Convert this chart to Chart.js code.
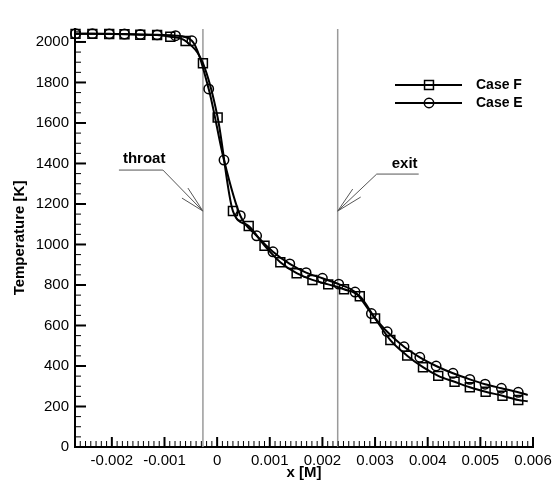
<!DOCTYPE html>
<html>
<head>
<meta charset="utf-8">
<script src="https://cdn.jsdelivr.net/npm/chart.js@4.4.1/dist/chart.umd.min.js"></script>
<style>
  html, body { margin: 0; padding: 0; background: #fff; }
  #wrap { width: 557px; height: 485px; }
</style>
</head>
<body>
<div id="wrap"><canvas id="tempChart"></canvas></div>
<script>
// Temperature along the nozzle axis
var caseFx = [-0.00269, -0.00237, -0.00205, -0.00176, -0.00146, -0.00114, -0.00089, -0.00060, -0.00027,
              0.00001, 0.00030, 0.00060, 0.00090, 0.00120, 0.00151, 0.00181, 0.00211, 0.00241, 0.00271,
              0.00300, 0.00329, 0.00361, 0.00391, 0.00420, 0.00451, 0.00480, 0.00510, 0.00542, 0.00572, 0.00590];
var caseFt = [2040, 2040, 2039, 2038, 2036, 2034, 2026, 2005, 1895,
              1627, 1165, 1091, 994, 912, 858, 825, 803, 779, 744,
              635, 528, 451, 394, 351, 322, 295, 273, 253, 232, 226];

var caseEx = [-0.00269, -0.00237, -0.00205, -0.00176, -0.00146, -0.00114, -0.00079, -0.00048, -0.00016,
              0.00013, 0.00044, 0.00075, 0.00106, 0.00138, 0.00169, 0.00200, 0.00231, 0.00262, 0.00293,
              0.00323, 0.00355, 0.00385, 0.00416, 0.00448, 0.00480, 0.00509, 0.00540, 0.00572, 0.00590];
var caseEt = [2041, 2041, 2040, 2039, 2037, 2035, 2031, 2006, 1768,
              1417, 1142, 1043, 964, 904, 861, 833, 804, 765, 659,
              569, 495, 443, 400, 364, 334, 310, 290, 270, 257];

var X_TICKS = [-0.002, -0.001, 0, 0.001, 0.002, 0.003, 0.004, 0.005, 0.006];
var Y_TICKS = [0, 200, 400, 600, 800, 1000, 1200, 1400, 1600, 1800, 2000];
var X_MIN = -0.0027, X_MAX = 0.006, Y_MIN = 0, Y_MAX = 2064;

// station markers
var THROAT_X = -0.00027, EXIT_X = 0.00229, MARK_T = 1165;

var FONT = "'Liberation Sans', Arial, Helvetica, sans-serif";

function toPoints(xs, ys) {
    return xs.map(function(x, i) { return { x: x, y: ys[i] }; });
}

// hide the marker on the last (line end) point
function markerRadius(r) {
    return function(ctx) {
        return ctx.dataIndex === ctx.dataset.data.length - 1 ? 0 : r;
    };
}

var decorPlugin = {
    id: 'decor',
    beforeDatasetsDraw: function(chart) {
        var ctx = chart.ctx, xs = chart.scales.x, ys = chart.scales.y, area = chart.chartArea;
        ctx.save();
        ctx.strokeStyle = '#9a9a9a';
        ctx.lineWidth = 1.5;
        [THROAT_X, EXIT_X].forEach(function(v) {
            var px = xs.getPixelForValue(v);
            ctx.beginPath();
            ctx.moveTo(px, area.top);
            ctx.lineTo(px, area.bottom);
            ctx.stroke();
        });

        // leader arrows
        ctx.strokeStyle = '#555';
        ctx.lineWidth = 1;
        function leader(tipX, tipY, elbowDx, elbowDy, endDx, heads) {
            ctx.beginPath();
            ctx.moveTo(tipX + elbowDx + endDx, tipY + elbowDy);
            ctx.lineTo(tipX + elbowDx, tipY + elbowDy);
            ctx.lineTo(tipX, tipY);
            heads.forEach(function(h) {
                ctx.moveTo(tipX, tipY);
                ctx.lineTo(tipX + h[0], tipY + h[1]);
            });
            ctx.stroke();
        }
        var ty = ys.getPixelForValue(MARK_T);
        var tx = xs.getPixelForValue(THROAT_X);
        var ex = xs.getPixelForValue(EXIT_X);
        leader(tx, ty, -40, -41, -44, [[-15, -23], [-21, -13]]);
        leader(ex, ty, 39, -37, 42, [[15, -22], [23, -14]]);

        ctx.fillStyle = '#000';
        ctx.font = 'bold 15px ' + FONT;
        ctx.textBaseline = 'alphabetic';
        ctx.textAlign = 'left';
        ctx.fillText('throat', tx - 80, ty - 48);
        ctx.fillText('exit', ex + 54, ty - 43);
        ctx.restore();
    },
    afterDraw: function(chart) {
        var ctx = chart.ctx, xs = chart.scales.x, ys = chart.scales.y, area = chart.chartArea;
        ctx.save();
        ctx.strokeStyle = '#000';
        // y ticks (inward)
        for (var t = 0; t <= Y_MAX; t += 50) {
            var py = ys.getPixelForValue(t);
            var major = Y_TICKS.indexOf(t) >= 0;
            ctx.lineWidth = major ? 2 : 1;
            ctx.beginPath();
            ctx.moveTo(area.left, py);
            ctx.lineTo(area.left + (major ? 11 : 6), py);
            ctx.stroke();
        }
        // x ticks (inward)
        for (var k = -27; k <= 60; k++) {
            var v = k / 10000;
            var px = xs.getPixelForValue(v);
            var maj = k % 10 === 0;
            ctx.lineWidth = maj ? 2 : 1;
            ctx.beginPath();
            ctx.moveTo(px, area.bottom);
            ctx.lineTo(px, area.bottom - (maj ? 10 : 6));
            ctx.stroke();
        }

        // legend
        var items = [
            { label: 'Case F', style: 'rect', r: 6.3, y: 85 },
            { label: 'Case E', style: 'circle', r: 4.7, y: 103 }
        ];
        items.forEach(function(it) {
            ctx.strokeStyle = '#000';
            ctx.lineWidth = 2;
            ctx.beginPath();
            ctx.moveTo(395, it.y);
            ctx.lineTo(462, it.y);
            ctx.stroke();
            ctx.lineWidth = 1.5;
            ctx.fillStyle = 'rgba(0,0,0,0)';
            Chart.helpers.drawPoint(ctx, { pointStyle: it.style, radius: it.r, borderWidth: 1.5 }, 429, it.y);
            ctx.fillStyle = '#000';
            ctx.font = 'bold 14px ' + FONT;
            ctx.textBaseline = 'middle';
            ctx.textAlign = 'left';
            ctx.fillText(it.label, 476, it.y);
        });
        ctx.restore();
    }
};

new Chart(document.getElementById('tempChart'), {
    type: 'line',
    data: {
        datasets: [{
            label: 'Case F',
            data: toPoints(caseFx, caseFt),
            borderColor: '#000',
            borderWidth: 2,
            pointStyle: 'rect',
            pointRadius: markerRadius(6.3),
            pointBorderWidth: 1.5,
            pointBorderColor: '#000',
            pointBackgroundColor: 'rgba(0,0,0,0)',
            cubicInterpolationMode: 'monotone',
            clip: false
        }, {
            label: 'Case E',
            data: toPoints(caseEx, caseEt),
            borderColor: '#000',
            borderWidth: 2,
            pointStyle: 'circle',
            pointRadius: markerRadius(4.7),
            pointBorderWidth: 1.5,
            pointBorderColor: '#000',
            pointBackgroundColor: 'rgba(0,0,0,0)',
            cubicInterpolationMode: 'monotone',
            clip: false
        }]
    },
    options: {
        responsive: true,
        maintainAspectRatio: false,
        animation: false,
        layout: { padding: { top: 29, right: 24, left: 0, bottom: 0 } },
        plugins: {
            legend: { display: false },
            tooltip: { enabled: false }
        },
        scales: {
            x: {
                type: 'linear',
                min: X_MIN,
                max: X_MAX,
                afterBuildTicks: function(scale) {
                    scale.ticks = X_TICKS.map(function(v) { return { value: v }; });
                },
                afterFit: function(scale) { scale.height = 38; },
                grid: { display: false, drawTicks: false, tickLength: 0 },
                border: { display: true, color: '#000', width: 2 },
                ticks: {
                    autoSkip: false,
                    maxRotation: 0,
                    padding: 5,
                    color: '#000',
                    font: { family: FONT, size: 15 },
                    callback: function(v) { return String(parseFloat(v.toFixed(4))); }
                },
                title: {
                    display: true,
                    text: 'x [M]',
                    color: '#000',
                    font: { family: FONT, size: 15, weight: 'bold' },
                    padding: { top: 0, bottom: 3 }
                }
            },
            y: {
                type: 'linear',
                min: Y_MIN,
                max: Y_MAX,
                afterBuildTicks: function(scale) {
                    scale.ticks = Y_TICKS.map(function(v) { return { value: v }; });
                },
                afterFit: function(scale) { scale.width = 75; },
                grid: { display: false, drawTicks: false, tickLength: 0 },
                border: { display: true, color: '#000', width: 2 },
                ticks: {
                    padding: 6,
                    color: '#000',
                    font: { family: FONT, size: 15 },
                    callback: function(v) { return String(v); }
                },
                title: {
                    display: true,
                    text: 'Temperature [K]',
                    color: '#000',
                    font: { family: FONT, size: 15, weight: 'bold' },
                    padding: { top: 11, bottom: 0 }
                }
            }
        }
    },
    plugins: [decorPlugin]
});
</script>
</body>
</html>
